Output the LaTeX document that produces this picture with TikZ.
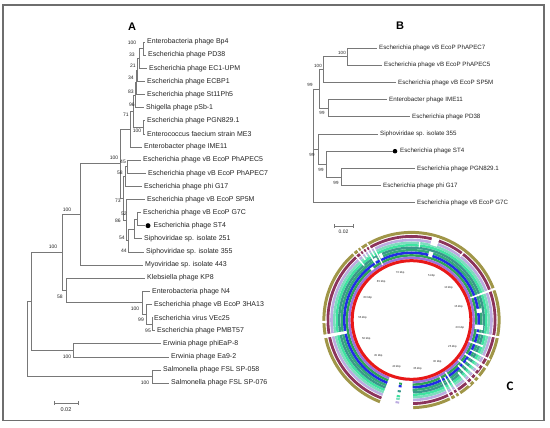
\documentclass[tikz,border=0pt]{standalone}
\usepackage{fontspec}
\setmainfont{Liberation Sans}
\newfontfamily\calibrifont{Carlito}
\definecolor{treeg}{RGB}{120,120,120}
\definecolor{txt}{RGB}{35,35,35}
\definecolor{frameg}{RGB}{110,110,110}
\definecolor{cred}{RGB}{232,24,24}
\definecolor{cpurple}{RGB}{155,112,222}
\definecolor{cgreen}{RGB}{45,165,85}
\definecolor{cblue}{RGB}{35,45,228}
\definecolor{cseag}{RGB}{50,170,120}
\definecolor{cteal}{RGB}{58,152,140}
\definecolor{cspring}{RGB}{62,228,160}
\definecolor{caqua}{RGB}{125,220,190}
\definecolor{clav}{RGB}{188,172,225}
\definecolor{cmaroon}{RGB}{140,52,92}
\definecolor{colive}{RGB}{160,150,72}
\newcommand\ringgap[4]{\fill[white] (#1:#3) arc[start angle=#1,end angle=#2,radius=#3] -- (#2:#4) arc[start angle=#2,end angle=#1,radius=#4] -- cycle;}
\newcommand\ringfrag[5]{\draw[#1,line width=#5pt] (#2:#4) arc[start angle=#2,end angle=#3,radius=#4];}
\begin{document}
\begin{tikzpicture}[x=1pt,y=-1pt,
  br/.style={draw=treeg,line width=0.6pt},
  lbr/.style={br,shorten >=1.6pt},
  leafA/.style={anchor=west,inner sep=0pt,text=txt,font=\fontsize{7}{8}\selectfont},
  leafB/.style={anchor=west,inner sep=0pt,text=txt,font=\fontsize{6.2}{7}\selectfont},
  bsA/.style={inner sep=0pt,text=txt,font=\fontsize{5}{6}\selectfont},
  bsB/.style={inner sep=0pt,text=txt,font=\fontsize{4.5}{5}\selectfont},
  kbp/.style={inner sep=0pt,text=txt,font=\fontsize{2.8}{3}\selectfont},
  panel/.style={inner sep=0pt,text=black,font=\bfseries\fontsize{11}{12}\selectfont},
  stdot/.style={circle,fill=black,inner sep=0pt,minimum size=5pt},
  ring/.style={line width=#1pt}
]
\useasboundingbox (0,0) rectangle (550,428);
\draw[frameg,line width=1.2pt] (3,5) rectangle (544,420.5);

% ---------------- Panel A ----------------
\node[panel] (labA) at (132,27) {A};
\node[leafA] (a0) at (147,42.00) {Enterobacteria phage Bp4};
\node[leafA] (a1) at (148,55.12) {Escherichia phage PD38};
\node[leafA] (a2) at (149,68.24) {Escherichia phage EC1-UPM};
\node[leafA] (a3) at (147,81.36) {Escherichia phage ECBP1};
\node[leafA] (a4) at (147,94.48) {Escherichia phage St11Ph5};
\node[leafA] (a5) at (146,107.6) {Shigella phage pSb-1};
\node[leafA] (a6) at (147,120.72) {Escherichia phage PGN829.1};
\node[leafA] (a7) at (147,133.84) {Enterococcus faecium strain ME3};
\node[leafA] (a8) at (144,146.96) {Enterobacter phage IME11};
\node[leafA] (a9) at (143,160.08) {Escherichia phage vB EcoP PhAPEC5};
\node[leafA] (a10) at (148,173.2) {Escherichia phage vB EcoP PhAPEC7};
\node[leafA] (a11) at (144,186.32) {Escherichia phage phi G17};
\node[leafA] (a12) at (147,199.44) {Escherichia phage vB EcoP SP5M};
\node[leafA] (a13) at (143,212.56) {Escherichia phage vB EcoP G7C};
\node[stdot] (a14d) at (148,225.68) {};
\node[leafA] (a14) at (153.5,225.68) {Escherichia phage ST4};
\node[leafA] (a15) at (144,238.8) {Siphoviridae sp. isolate 251};
\node[leafA] (a16) at (146,251.92) {Siphoviridae sp. isolate 355};
\node[leafA] (a17) at (145,265.04) {Myoviridae sp. isolate 443};
\node[leafA] (a18) at (147,278.16) {Klebsiella phage KP8};
\node[leafA] (a19) at (152,291.28) {Enterobacteria phage N4};
\node[leafA] (a20) at (154,304.4) {Escherichia phage vB EcoP 3HA13};
\node[leafA] (a21) at (154,317.52) {Escherichia virus VEc25};
\node[leafA] (a22) at (157,330.64) {Escherichia phage PMBT57};
\node[leafA] (a23) at (163,343.76) {Erwinia phage phiEaP-8};
\node[leafA] (a24) at (171,356.88) {Erwinia phage Ea9-2};
\node[leafA] (a25) at (163,370.0) {Salmonella phage FSL SP-058};
\node[leafA] (a26) at (171,383.12) {Salmonella phage FSL SP-076};

\coordinate (nbp) at (143,48.56);
\coordinate (nec1) at (139,58.4);
\coordinate (necbp) at (137.5,69.88);
\coordinate (nst) at (136.5,82.18);
\coordinate (npsb) at (135.5,94.89);
\coordinate (npgn) at (143,127.28);
\coordinate (n96) at (133,111.09);
\coordinate (n71) at (130,129.02);
\coordinate (nph) at (127,166.64);
\coordinate (n58) at (125,176.48);
\coordinate (ng7) at (137,219.12);
\coordinate (n54) at (134,228.96);
\coordinate (n44) at (128,240.44);
\coordinate (n86) at (126,219.94);
\coordinate (nV) at (123,198.21);
\coordinate (nT) at (120,163.6);
\coordinate (nc) at (80,214.32);
\coordinate (nv) at (152,324.08);
\coordinate (n3) at (146,314.24);
\coordinate (nn) at (142.5,302.76);
\coordinate (nk) at (66,290.46);
\coordinate (nb) at (62,252.39);
\coordinate (nerw) at (73,350.32);
\coordinate (na) at (31,301.36);
\coordinate (nsal) at (152,376.56);
\coordinate (nroot) at (27,338.96);

\draw[lbr] (nbp) |- (a0.west); \draw[lbr] (nbp) |- (a1.west);
\draw[br] (nec1) |- (nbp); \draw[lbr] (nec1) |- (a2.west);
\draw[br] (necbp) |- (nec1); \draw[lbr] (necbp) |- (a3.west);
\draw[br] (nst) |- (necbp); \draw[lbr] (nst) |- (a4.west);
\draw[br] (npsb) |- (nst); \draw[lbr] (npsb) |- (a5.west);
\draw[lbr] (npgn) |- (a6.west); \draw[lbr] (npgn) |- (a7.west);
\draw[br] (n96) |- (npsb); \draw[br] (n96) |- (npgn);
\draw[br] (n71) |- (n96); \draw[lbr] (n71) |- (a8.west);
\draw[lbr] (nph) |- (a9.west); \draw[lbr] (nph) |- (a10.west);
\draw[br] (n58) |- (nph); \draw[lbr] (n58) |- (a11.west);
\draw[br] (ng7) |- (a14d); \draw[lbr] (ng7) |- (a13.west);
\draw[br] (n54) |- (ng7); \draw[lbr] (n54) |- (a15.west);
\draw[br] (n44) |- (n54); \draw[lbr] (n44) |- (a16.west);
\draw[lbr] (n86) |- (a12.west); \draw[br] (n86) |- (n44);
\draw[br] (nV) |- (n58); \draw[br] (nV) |- (n86);
\draw[br] (nT) |- (n71); \draw[br] (nT) |- (nV);
\draw[br] (nc) |- (nT); \draw[lbr] (nc) |- (a17.west);
\draw[lbr] (nv) |- (a21.west); \draw[lbr] (nv) |- (a22.west);
\draw[lbr] (n3) |- (a20.west); \draw[br] (n3) |- (nv);
\draw[lbr] (nn) |- (a19.west); \draw[br] (nn) |- (n3);
\draw[lbr] (nk) |- (a18.west); \draw[br] (nk) |- (nn);
\draw[br] (nb) |- (nc); \draw[br] (nb) |- (nk);
\draw[lbr] (nerw) |- (a23.west); \draw[lbr] (nerw) |- (a24.west);
\draw[br] (na) |- (nb); \draw[br] (na) |- (nerw);
\draw[lbr] (nsal) |- (a25.west); \draw[lbr] (nsal) |- (a26.west);
\draw[br] (nroot) |- (na); \draw[br] (nroot) |- (nsal);

\node[bsA] (bA1) at (132,43) {100};
\node[bsA] (bA2) at (132,55) {33};
\node[bsA] (bA3) at (133,66) {21};
\node[bsA] (bA4) at (131,78) {34};
\node[bsA] (bA5) at (131,92) {83};
\node[bsA] (bA6) at (132,105) {96};
\node[bsA] (bA7) at (126,115) {71};
\node[bsA] (bA8) at (137,131) {100};
\node[bsA] (bA9) at (114,158) {100};
\node[bsA] (bA10) at (123,162) {45};
\node[bsA] (bA11) at (120,173) {58};
\node[bsA] (bA12) at (118,201) {73};
\node[bsA] (bA13) at (124,214) {52};
\node[bsA] (bA14) at (118,221) {86};
\node[bsA] (bA15) at (122,238) {54};
\node[bsA] (bA16) at (124,251) {44};
\node[bsA] (bA17) at (67,210) {100};
\node[bsA] (bA18) at (53,247) {100};
\node[bsA] (bA19) at (60,297) {58};
\node[bsA] (bA20) at (135,309) {100};
\node[bsA] (bA21) at (141,320) {99};
\node[bsA] (bA22) at (148,331) {95};
\node[bsA] (bA23) at (67,357) {100};
\node[bsA] (bA24) at (145,383) {100};

\coordinate (sA1) at (54,403); \coordinate (sA2) at (78,403);
\draw[br] (sA1) -- (sA2);
\draw[br] ([yshift=-2pt]sA1) -- ([yshift=2pt]sA1);
\draw[br] ([yshift=-2pt]sA2) -- ([yshift=2pt]sA2);
\node[bsA,font=\fontsize{5.5}{6}\selectfont] (sAl) at (66,410) {0.02};

% ---------------- Panel B ----------------
\node[panel] (labB) at (400,26) {B};
\node[leafB] (b0) at (379,48) {Escherichia phage vB EcoP PhAPEC7};
\node[leafB] (b1) at (384,65.2) {Escherichia phage vB EcoP PhAPEC5};
\node[leafB] (b2) at (398,82.4) {Escherichia phage vB EcoP SP5M};
\node[leafB] (b3) at (389,99.6) {Enterobacter phage IME11};
\node[leafB] (b4) at (412,116.8) {Escherichia phage PD38};
\node[leafB] (b5) at (380,134) {Siphoviridae sp. isolate 355};
\node[stdot,minimum size=4.6pt] (b6d) at (395,151.2) {};
\node[leafB] (b6) at (400,151.2) {Escherichia phage ST4};
\node[leafB] (b7) at (417,168.4) {Escherichia phage PGN829.1};
\node[leafB] (b8) at (383,185.6) {Escherichia phage phi G17};
\node[leafB] (b9) at (417,202.8) {Escherichia phage vB EcoP G7C};

\coordinate (m1) at (347,56.6);
\coordinate (m2) at (323,69.5);
\coordinate (m3) at (328,108.2);
\coordinate (m4) at (319,88.85);
\coordinate (m5) at (341,177);
\coordinate (m6) at (326,164.1);
\coordinate (m7) at (318,149.05);
\coordinate (mr) at (313,88.85);

\draw[lbr] (m1) |- (b0.west); \draw[lbr] (m1) |- (b1.west);
\draw[br] (m2) |- (m1); \draw[lbr] (m2) |- (b2.west);
\draw[lbr] (m3) |- (b3.west); \draw[lbr] (m3) |- (b4.west);
\draw[br] (m4) |- (m2); \draw[br] (m4) |- (m3);
\draw[lbr] (m5) |- (b7.west); \draw[lbr] (m5) |- (b8.west);
\draw[br] (m6) |- (b6d); \draw[br] (m6) |- (m5);
\draw[lbr] (m7) |- (b5.west); \draw[br] (m7) |- (m6);
\draw[br] (mr) |- (m4); \draw[br] (mr) |- (m7); \draw[lbr] (mr) |- (b9.west);

\node[bsB] (bB1) at (342,53) {100};
\node[bsB] (bB2) at (318,66) {100};
\node[bsB] (bB3) at (310,85) {99};
\node[bsB] (bB4) at (322,113) {99};
\node[bsB] (bB5) at (312,155) {99};
\node[bsB] (bB6) at (321,170) {99};
\node[bsB] (bB7) at (336,182.5) {99};

\coordinate (sB1) at (334,226); \coordinate (sB2) at (353,226);
\draw[br] (sB1) -- (sB2);
\draw[br] ([yshift=-2pt]sB1) -- ([yshift=2pt]sB1);
\draw[br] ([yshift=-2pt]sB2) -- ([yshift=2pt]sB2);
\node[bsB,font=\fontsize{5}{6}\selectfont] (sBl) at (343.5,232) {0.02};

% ---------------- Panel C ----------------
\begin{scope}[shift={(411.5,320)},y=1pt]
  \draw[colive,ring=3.0] (0,0) circle[radius=87.6];
  \draw[cmaroon,ring=2.8] (0,0) circle[radius=83.6];
  \draw[clav,ring=2.6] (0,0) circle[radius=80.0];
  \draw[caqua,ring=2.4] (0,0) circle[radius=77.3];
  \draw[cspring,ring=2.4] (0,0) circle[radius=74.8];
  \draw[cteal,ring=2.4] (0,0) circle[radius=72.3];
  \draw[cseag,ring=2.4] (0,0) circle[radius=69.8];
  \draw[cblue,ring=2.6] (0,0) circle[radius=67.2];
  \draw[cgreen,ring=2.4] (0,0) circle[radius=64.6];
  \draw[cpurple,ring=2.4] (0,0) circle[radius=62.1];
  % gaps
  \ringgap{249}{271}{60.9}{91}
  \ringgap{189.5}{191.8}{65.9}{91}
  \ringgap{180.5}{182}{85}{91}
  \ringgap{71}{76}{77.5}{86}
  \ringgap{72}{75.5}{65.9}{71}
  \ringgap{83.5}{84.4}{73}{78.5}
  \ringgap{130.5}{131.5}{72}{91}
  \ringgap{127}{128}{76}{91}
  \ringgap{124.5}{125.5}{77}{91}
  \ringgap{122}{123}{66}{86}
  \ringgap{119.5}{120.5}{74}{89}
  \ringgap{117}{118}{62}{82}
  \ringgap{114}{116.5}{68.6}{73.5}
  \ringgap{119.5}{123}{69}{72}
  \ringgap{126}{129}{63.3}{66}
  \ringgap{19.8}{21.2}{63}{91}
  \ringgap{52}{53}{80}{86}
  \ringgap{6}{9.5}{65.9}{71}
  \ringgap{-8}{-4}{64}{72}
  \ringgap{-11.8}{-10.5}{66}{91}
  \ringgap{-21}{-19.5}{60.9}{76}
  \ringgap{-27.5}{-26.3}{66}{88}
  \ringgap{-33}{-31.5}{63}{91}
  \ringgap{-37}{-35.5}{68}{84}
  \ringgap{-41}{-39.5}{60.9}{91}
  \ringgap{-45}{-43.5}{65}{91}
  \ringgap{-49}{-47.5}{70}{88}
  \ringgap{-57.5}{-56.3}{62}{92}
  \ringgap{-60.5}{-59.4}{66}{92}
  \ringgap{-64}{-63}{63}{91}
  % fragments inside bottom gap
  \ringfrag{cgreen}{259}{261.5}{64.6}{2.0}
  \ringfrag{cblue}{259}{261.5}{67.2}{2.2}
  \ringfrag{cteal}{259}{261.5}{72.3}{2.0}
  \ringfrag{cspring}{259}{261.5}{77.3}{2.0}
  \ringfrag{caqua}{259}{261.5}{80.0}{2.0}
  \ringfrag{clav}{259}{261.5}{83.6}{2.0}
  % red innermost ring
  \draw[cred,ring=3.0] (0,0) circle[radius=59.3];
  \foreach \k in {5,10,...,70} {
    \node[kbp] (kbp\k) at ({90.6-4.96*\k}:49) {\k\ kbp};
  }
\end{scope}
\node[inner sep=0pt,font=\calibrifont\bfseries\fontsize{13}{14}\selectfont] (labC) at (510,386) {C};
\end{tikzpicture}
\end{document}
